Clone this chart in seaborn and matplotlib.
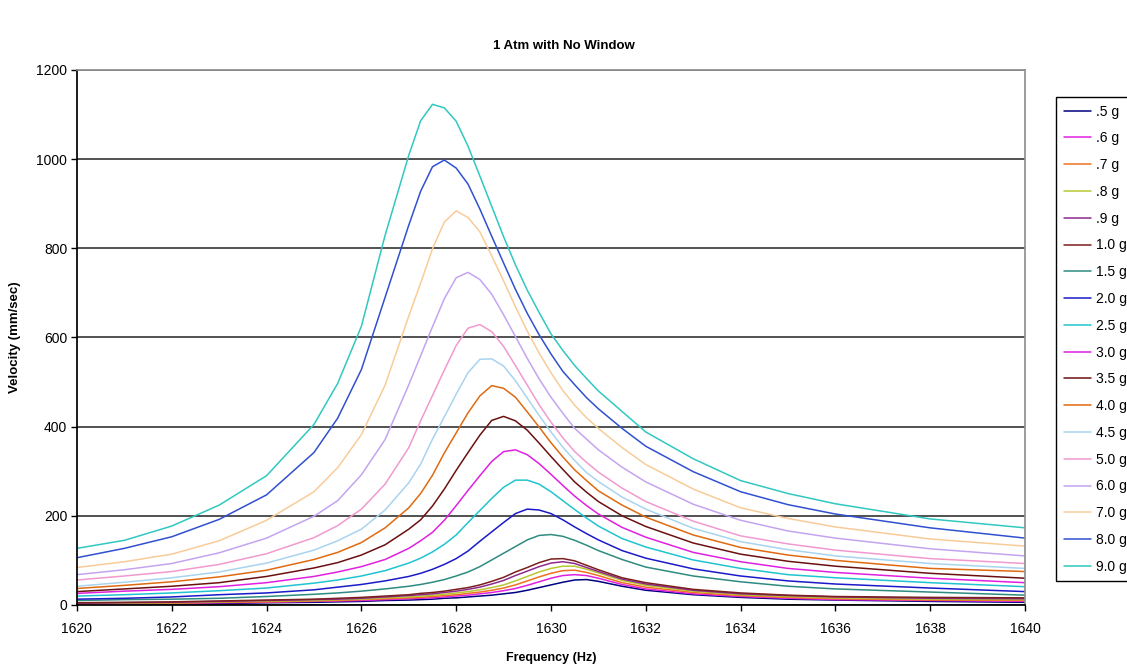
import numpy as np
import pandas as pd
import seaborn as sns
import matplotlib.pyplot as plt

# frequency grid (Hz) used for every series
freq = [1620, 1621, 1622, 1623, 1624, 1625, 1625.5, 1626, 1626.5, 1627,
        1627.25, 1627.5, 1627.75, 1628, 1628.25, 1628.5, 1628.75, 1629,
        1629.25, 1629.5, 1629.75, 1630, 1630.25, 1630.5, 1630.75, 1631,
        1631.5, 1632, 1633, 1634, 1635, 1636, 1638, 1640]

# velocity (mm/sec), one list per drive level
v_05 = [1, 2, 2, 3, 5, 6, 7, 8, 10, 11, 12, 13, 15, 16, 18, 20, 22, 25,
        28, 33, 39, 45, 51, 56, 57, 53, 42, 33, 23, 17, 13, 11, 8, 6]
v_06 = [2, 3, 3, 5, 6, 8, 9, 10, 12, 14, 15, 16, 18, 20, 22, 25, 28, 32,
        37, 44, 52, 60, 66, 68, 66, 60, 46, 36, 25, 19, 15, 12, 10, 8]
v_07 = [3, 3, 4, 6, 7, 9, 10, 12, 14, 16, 17, 19, 21, 23, 26, 29, 33, 38,
        45, 54, 63, 71, 77, 78, 73, 66, 50, 40, 28, 21, 17, 14, 11, 10]
v_08 = [3, 4, 5, 7, 9, 10, 12, 13, 16, 18, 20, 22, 24, 27, 30, 34, 39, 45,
        54, 64, 74, 82, 87, 87, 80, 72, 55, 44, 31, 23, 19, 16, 13, 12]
v_09 = [4, 5, 6, 8, 10, 12, 13, 15, 18, 21, 23, 25, 28, 31, 35, 40, 47, 55,
        66, 76, 86, 94, 97, 93, 84, 75, 58, 47, 33, 25, 21, 18, 15, 14]
v_10 = [5, 6, 7, 9, 11, 13, 15, 17, 20, 23, 26, 28, 31, 35, 39, 45, 53, 62,
        74, 84, 95, 103, 104, 99, 89, 79, 61, 50, 35, 27, 22, 19, 17, 16]
v_15 = [10, 12, 13, 15, 19, 24, 27, 31, 36, 42, 46, 51, 57, 65, 74, 86, 101,
        116, 131, 146, 156, 158, 154, 145, 134, 122, 102, 85, 65, 52, 42, 36,
        29, 22]
v_20 = [13, 15, 18, 23, 27, 34, 40, 46, 54, 64, 71, 80, 91, 104, 121, 143,
        164, 185, 205, 215, 213, 205, 191, 175, 160, 146, 122, 105, 81, 65,
        54, 47, 38, 30]
v_25 = [20, 23, 27, 32, 38, 49, 56, 65, 77, 94, 105, 119, 136, 157, 185,
        212, 239, 264, 280, 280, 271, 254, 234, 214, 195, 177, 149, 130, 101,
        82, 68, 61, 50, 41]
v_30 = [26, 31, 35, 41, 50, 64, 74, 86, 102, 127, 144, 163, 190, 223, 257,
        290, 322, 344, 348, 337, 317, 293, 268, 244, 223, 204, 174, 152, 118,
        97, 82, 73, 60, 50]
v_35 = [30, 36, 42, 50, 64, 83, 95, 112, 135, 170, 191, 222, 260, 302, 342,
        381, 414, 423, 413, 392, 363, 333, 304, 276, 253, 232, 200, 176, 139,
        114, 98, 87, 71, 60]
v_40 = [37, 44, 52, 63, 78, 102, 118, 140, 173, 218, 250, 291, 341, 386,
        431, 469, 492, 486, 466, 433, 399, 364, 332, 303, 279, 256, 224, 197,
        157, 129, 112, 100, 82, 75]
v_45 = [42, 51, 61, 74, 94, 123, 144, 170, 213, 274, 316, 372, 422, 473,
        521, 551, 552, 536, 503, 464, 425, 388, 354, 324, 297, 277, 242, 215,
        172, 142, 124, 110, 93, 82]
v_50 = [56, 65, 75, 91, 115, 151, 178, 215, 271, 353, 413, 470, 527, 582,
        621, 629, 613, 580, 537, 493, 449, 410, 375, 344, 320, 298, 262, 232,
        188, 155, 137, 123, 104, 93]
v_60 = [68, 79, 93, 117, 150, 199, 234, 292, 371, 494, 559, 624, 687, 734,
        746, 730, 697, 651, 602, 553, 507, 466, 430, 396, 372, 348, 309, 276,
        226, 190, 166, 150, 126, 110]
v_70 = [84, 97, 114, 144, 190, 254, 308, 382, 493, 648, 722, 799, 859, 884,
        869, 837, 783, 727, 669, 614, 565, 521, 481, 448, 420, 396, 353, 315,
        260, 218, 194, 175, 148, 132]
v_80 = [106, 127, 153, 192, 247, 342, 419, 528, 690, 852, 928, 983, 998,
        980, 944, 888, 827, 767, 708, 654, 606, 563, 524, 494, 465, 440, 396,
        356, 299, 254, 225, 204, 173, 150]
v_90 = [127, 145, 177, 224, 290, 405, 497, 625, 829, 1009, 1086, 1123, 1115,
        1085, 1029, 962, 894, 826, 763, 706, 656, 608, 571, 537, 508, 480, 434,
        388, 328, 279, 250, 227, 193, 173]

labels = ['.5 g', '.6 g', '.7 g', '.8 g', '.9 g', '1.0 g', '1.5 g', '2.0 g',
          '2.5 g', '3.0 g', '3.5 g', '4.0 g', '4.5 g', '5.0 g', '6.0 g',
          '7.0 g', '8.0 g', '9.0 g']
series = [v_05, v_06, v_07, v_08, v_09, v_10, v_15, v_20, v_25, v_30, v_35,
          v_40, v_45, v_50, v_60, v_70, v_80, v_90]
colors = ['#000080', '#E020E0', '#F07020', '#B8C830', '#8E2A8E', '#7A1E1E',
          '#2E8B80', '#1A1AC8', '#20C4D0', '#E020E0', '#6B1010', '#E06A10',
          '#A8D4F0', '#F09AD0', '#C4A4F0', '#F8CC98', '#3050D0', '#30C8C0']

df = pd.DataFrame({
    'Frequency': np.tile(freq, len(labels)),
    'Velocity': np.concatenate(series),
    'Load': np.repeat(labels, len(freq)),
})

sns.set_theme(style='ticks')
plt.rcParams['font.family'] = ['Liberation Sans', 'DejaVu Sans']
plt.rcParams['text.color'] = 'black'
plt.rcParams['axes.labelcolor'] = 'black'

fig = plt.figure(figsize=(11.27, 6.71), dpi=100)
ax = fig.add_axes([0.0683, 0.0984, 0.8412, 0.7973])

sns.lineplot(data=df, x='Frequency', y='Velocity', hue='Load',
             hue_order=labels, palette=colors, linewidth=1.1,
             errorbar=None, ax=ax, legend=True)

ax.set_xlim(1620, 1640)
ax.set_ylim(0, 1200)
ax.set_xticks(np.arange(1620, 1641, 2))
ax.set_yticks(np.arange(0, 1201, 200))
ax.yaxis.grid(True, color='#333333', linewidth=1.2)
ax.set_axisbelow(True)
ax.tick_params(axis='both', direction='out', length=4, width=1,
               labelsize=10, colors='black')
ax.tick_params(axis='x', pad=8)
ax.tick_params(axis='y', pad=3)
for side in ['top', 'right']:
    ax.spines[side].set_color('#909090')
for side in ['left', 'bottom']:
    ax.spines[side].set_color('black')

ax.set_xlabel('Frequency (Hz)', fontsize=9, fontweight='bold', labelpad=12)
ax.set_ylabel('Velocity (mm/sec)', fontsize=9.5, fontweight='bold', labelpad=11)
fig.suptitle('1 Atm with No Window', x=0.5, y=0.94, fontsize=9.5,
             fontweight='bold')

ax.legend(loc='upper left', bbox_to_anchor=(0.9308, 0.8659),
          bbox_transform=fig.transFigure, fontsize=10, frameon=True,
          fancybox=False, edgecolor='black', framealpha=1,
          labelspacing=0.92, handlelength=1.95, handletextpad=0.36,
          borderpad=0.55, title=None)
ax.get_legend().get_frame().set_linewidth(1.0)

fig.savefig('out.png', dpi=100)
